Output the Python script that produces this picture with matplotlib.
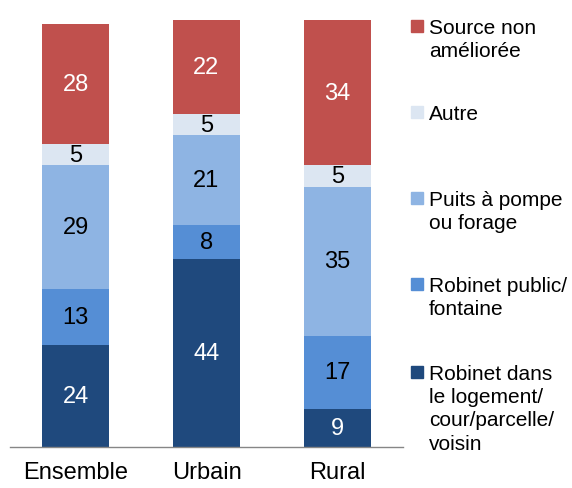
import matplotlib
matplotlib.use("Agg")
import matplotlib.pyplot as plt
from matplotlib.patches import Rectangle
import numpy as np

plt.rcParams['font.family'] = ['Liberation Sans', 'DejaVu Sans']

categories = ["Ensemble", "Urbain", "Rural"]
series_names = ["Robinet dans\nle logement/\ncour/parcelle/\nvoisin",
                "Robinet public/\nfontaine",
                "Puits à pompe\nou forage",
                "Autre",
                "Source non\naméliorée"]
robinet_logement = [24, 44, 9]
robinet_public = [13, 8, 17]
puits = [29, 21, 35]
autre = [5, 5, 5]
source_non = [28, 22, 34]

series = [robinet_logement, robinet_public, puits, autre, source_non]
colors = ["#1F497D", "#558ED5", "#8EB4E3", "#DCE6F2", "#C0504D"]
label_colors = ["white", "black", "black", "black", "white"]

W, H = 572, 489
fig = plt.figure(figsize=(W/100, H/100), dpi=100)
ax = fig.add_axes([10/W, (H-448)/H, 393/W, 427/H])

x = np.arange(len(categories))
bottom = np.zeros(len(categories))
for vals, c, lc in zip(series, colors, label_colors):
    v = np.array(vals, dtype=float)
    ax.bar(x, v, bottom=bottom, width=0.505, color=c, edgecolor='none')
    for xi, b, vi in zip(x, bottom, v):
        ax.text(xi, b + vi/2, f"{int(vi)}", ha='center', va='center',
                fontsize=17, color=lc)
    bottom += v

ax.set_xlim(-0.5, 2.5)
ax.set_ylim(0, 100)
ax.set_yticks([])
ax.set_xticks(x)
ax.set_xticklabels(categories, fontsize=17)
ax.tick_params(axis='x', length=0, pad=10)
for s in ['top', 'right', 'left']:
    ax.spines[s].set_visible(False)
ax.spines['bottom'].set_color('#868686')
ax.spines['bottom'].set_linewidth(1.0)

# Legend (manual, top to bottom in reverse stacking order)
centers = [27, 113, 199, 285, 373]
for name, c, cy in zip(series_names[::-1], colors[::-1], centers):
    fig.patches.append(Rectangle((411/W, (H-cy-6)/H), 12/W, 12/H,
                                 transform=fig.transFigure, color=c))
    fig.text(429/W, (H-cy+8)/H, name, ha='left', va='top', fontsize=15,
             linespacing=1.28, color='black')

fig.savefig("out.png", dpi=100)
